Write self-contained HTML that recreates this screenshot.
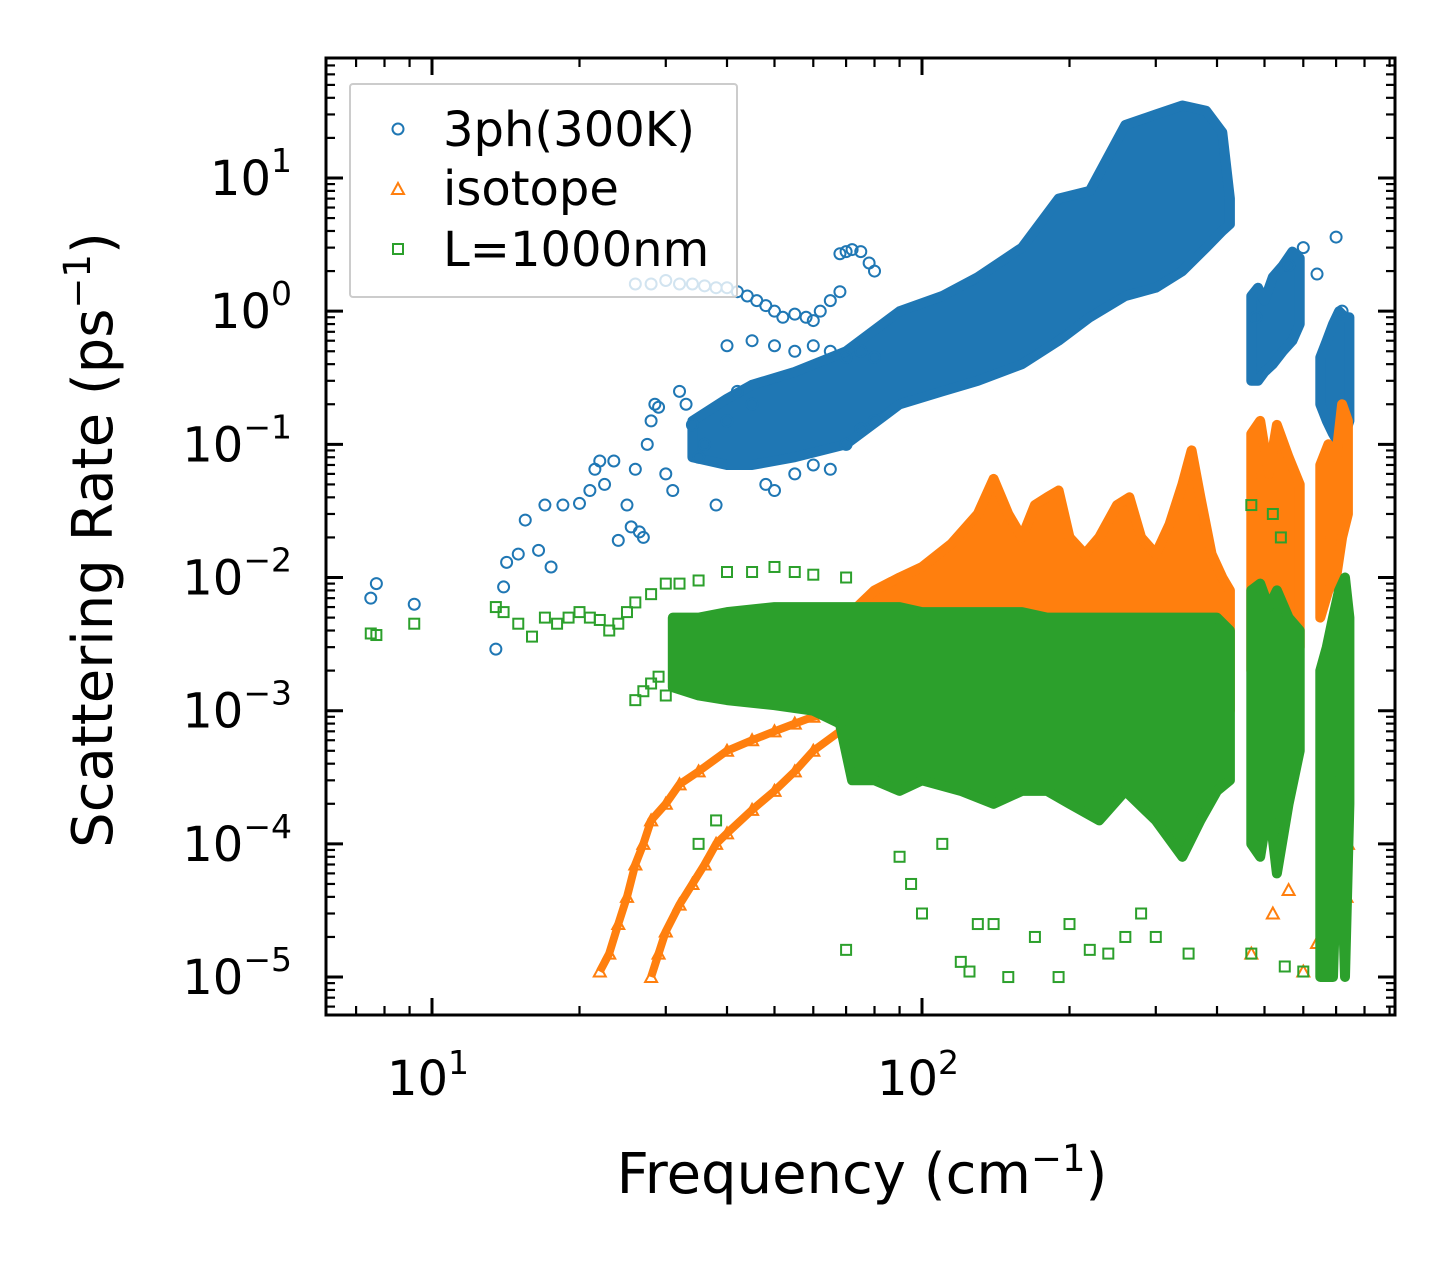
<!DOCTYPE html>
<html><head><meta charset="utf-8"><style>
html,body{margin:0;padding:0;background:#fff;}
svg{display:block;font-family:"DejaVu Sans","Liberation Sans",sans-serif;}
</style></head><body>
<svg id="chart" width="1455" height="1265" viewBox="0 0 1455 1265" xmlns="http://www.w3.org/2000/svg">
<rect x="0" y="0" width="1455" height="1265" fill="#fff"/>
<defs><clipPath id="plotclip"><rect x="326" y="58" width="1069" height="957"/></clipPath></defs>
<g id="plot" clip-path="url(#plotclip)"></g>
<g id="axes"></g>
<text x="862" y="1193" font-size="56" text-anchor="middle">Frequency (cm<tspan font-size="37" dy="-22">−1</tspan><tspan dy="22">)</tspan></text>
<text transform="translate(112,540) rotate(-90)" font-size="56" text-anchor="middle">Scattering Rate (ps<tspan font-size="37" dy="-22">−1</tspan><tspan dy="22">)</tspan></text>
<g>
<rect x="350" y="84" width="387" height="213" fill="#fff" fill-opacity="0.8" stroke="#ccc" stroke-width="2" rx="3"/>
<g><circle cx="398" cy="129" r="5.5" fill="none" stroke="#1f77b4" stroke-width="2"/><text x="443" y="146" font-size="48">3ph(300K)</text></g>
<g><polygon points="398,183 404,194 392,194" fill="none" stroke="#ff7f0e" stroke-width="2"/><text x="443" y="205" font-size="48">isotope</text></g>
<g><rect x="393" y="244" width="10" height="10" fill="none" stroke="#2ca02c" stroke-width="2"/><text x="443" y="266" font-size="48">L=1000nm</text></g>
</g>
</svg>
<script>
// ---- data ----
const blueF=[7.5,7.7,9.2,13.5,14,14.2,15,15.5,16.5,17,17.5,18.5,20,21,21.5,22,22.5,23.5,24,25,25.5,26,26.5,27,27.5,28,28.5,29,30,31,32,33,34,35,36,38,40,42,45,48,50,55,60,65,70,75,80,26,28,30,32,34,36,38,40,42,44,46,48,50,52,55,58,60,62,65,68,40,45,50,55,60,65,70,75,80,68,70,72,75,78,80,600,640,700,720,560,480];
const blueR=[0.007,0.009,0.0063,0.0029,0.0085,0.013,0.015,0.027,0.016,0.035,0.012,0.035,0.036,0.045,0.065,0.075,0.05,0.075,0.019,0.035,0.024,0.065,0.022,0.02,0.1,0.15,0.2,0.19,0.06,0.045,0.25,0.2,0.14,0.08,0.1,0.035,0.15,0.25,0.2,0.05,0.045,0.06,0.07,0.065,0.1,0.13,0.15,1.6,1.6,1.7,1.6,1.6,1.55,1.5,1.5,1.4,1.3,1.2,1.1,1.0,0.9,0.95,0.9,0.85,1.0,1.2,1.4,0.55,0.6,0.55,0.5,0.55,0.5,0.45,0.5,0.45,2.7,2.8,2.9,2.8,2.3,2.0,3.0,1.9,3.6,1.0,2.2,0.9];
const blueBandF=[34,40,45,55,70,90,110,130,160,190,220,260,300,340,380,410,425];
const blueBandLo=[0.08,0.07,0.07,0.08,0.1,0.2,0.25,0.3,0.4,0.6,0.9,1.3,1.5,2,3,4,4.5];
const blueBandHi=[0.15,0.22,0.28,0.35,0.5,1.0,1.3,1.8,3,7,8,25,30,35,32,22,7];
const blueClumpF=[[470,485,500,520,545,570,590],[650,670,690,710,730,745]];
const blueClumpLo=[[0.3,0.3,0.35,0.4,0.5,0.6,0.8],[0.2,0.15,0.12,0.1,0.12,0.15]];
const blueClumpHi=[[1.3,1.5,1.2,1.8,2.2,2.8,2.5],[0.45,0.6,0.8,1.0,0.9,0.9]];

const orgF=[22,23,24,25,26,27,28,30,32,35,40,45,50,55,60,68,28,29,30,32,34,36,38,40,45,50,55,60,68,470,520,560,600,640,700,735,740];
const orgR=[1.1e-5,1.5e-5,2.5e-5,4e-5,7e-5,1e-4,1.5e-4,2e-4,2.8e-4,3.5e-4,5e-4,6e-4,7e-4,8e-4,9e-4,1e-3,1e-5,1.5e-5,2.2e-5,3.5e-5,5e-5,7e-5,1e-4,1.2e-4,1.8e-4,2.5e-4,3.5e-4,5e-4,7e-4,1.5e-5,3e-5,4.5e-5,1.1e-5,1.8e-5,2e-4,4e-5,1e-4];
const orgBranchA=[0,16];
const orgBranchB=[16,29];
const orgBandF=[70,80,90,100,115,130,140,150,160,170,180,190,200,215,230,250,265,280,300,320,340,355,370,390,410,425];
const orgBandLo=[1e-3,1e-3,1e-3,1e-3,1e-3,1e-3,1e-3,1e-3,1e-3,1e-3,1e-3,1e-3,1e-3,1e-3,1e-3,1e-3,1e-3,1e-3,1e-3,1e-3,1e-3,1e-3,1e-3,1e-3,1e-3,1e-3];
const orgBandHi=[0.005,0.008,0.01,0.012,0.018,0.03,0.055,0.03,0.02,0.035,0.04,0.045,0.02,0.015,0.02,0.035,0.04,0.02,0.015,0.025,0.05,0.09,0.04,0.015,0.01,0.008];
const orgClumpF=[[470,490,510,530,560,590],[650,675,700,720,740]];
const orgClumpLo=[[2e-3,1.5e-3,1.5e-3,2e-3,2e-3,3e-3],[5e-3,8e-3,0.01,0.02,0.03]];
const orgClumpHi=[[0.12,0.15,0.06,0.14,0.08,0.05],[0.07,0.1,0.08,0.2,0.15]];

const grnF=[7.5,7.7,9.2,13.5,14,15,16,17,18,19,20,21,22,23,24,25,26,28,30,32,35,40,45,50,55,60,70,26,27,28,29,30,35,38,70,90,95,100,110,120,125,130,140,150,170,190,200,220,240,260,280,300,350,470,550,600,470,520,540];
const grnR=[0.0038,0.0037,0.0045,0.006,0.0055,0.0045,0.0036,0.005,0.0045,0.005,0.0055,0.005,0.0048,0.004,0.0045,0.0055,0.0065,0.0075,0.009,0.009,0.0095,0.011,0.011,0.012,0.011,0.0105,0.01,0.0012,0.0014,0.0016,0.0018,0.0013,1e-4,1.5e-4,1.6e-5,8e-5,5e-5,3e-5,1e-4,1.3e-5,1.1e-5,2.5e-5,2.5e-5,1e-5,2e-5,1e-5,2.5e-5,1.6e-5,1.5e-5,2e-5,3e-5,2e-5,1.5e-5,1.5e-5,1.2e-5,1.1e-5,0.035,0.03,0.02];
const grnBandF=[31,35,40,50,60,68,72,80,90,100,120,140,160,180,200,230,260,300,340,370,400,425];
const grnBandLo=[1.5e-3,1.3e-3,1.2e-3,1.1e-3,1e-3,8e-4,3e-4,3e-4,2.5e-4,3e-4,2.5e-4,2e-4,2.5e-4,2.5e-4,2e-4,1.5e-4,2.5e-4,1.5e-4,8e-5,1.5e-4,2.5e-4,3e-4];
const grnBandHi=[5e-3,5e-3,5.5e-3,6e-3,6e-3,6e-3,6e-3,6e-3,6e-3,5.5e-3,5.5e-3,5.5e-3,5.5e-3,5e-3,5e-3,5e-3,5e-3,5e-3,5e-3,5e-3,5e-3,4e-3];
const grnClumpF=[[470,490,510,530,560,590],[650,670,690,710,730,745]];
const grnClumpLo=[[1e-4,8e-5,2e-4,6e-5,2e-4,5e-4],[1e-5,1e-5,1e-5,3e-4,1e-5,2e-4]];
const grnClumpHi=[[8e-3,9e-3,6e-3,8e-3,5e-3,4e-3],[2e-3,3e-3,5e-3,8e-3,1e-2,5e-3]];

const xTickVals=[10,100];
const yTickExps=[1,0,-1,-2,-3,-4,-5];

// ---- axes ----
const X0=326,X1=1395,Y0=58,Y1=1015;
const xLogMin=0.7837,xLogMax=2.9653,yLogMin=-5.285,yLogMax=1.901;
function xs(f){return X0+(Math.log10(f)-xLogMin)/(xLogMax-xLogMin)*(X1-X0);}
function ys(r){return Y1-(Math.log10(r)-yLogMin)/(yLogMax-yLogMin)*(Y1-Y0);}
const NS="http://www.w3.org/2000/svg";
const plot=document.getElementById('plot'),axes=document.getElementById('axes');
function mk(tag,attrs,parent){const e=document.createElementNS(NS,tag);for(const k in attrs)e.setAttribute(k,attrs[k]);parent.appendChild(e);return e;}

function band(F,Lo,Hi,color,name){
  let pts=[];
  for(let i=0;i<F.length;i++)pts.push(xs(F[i]).toFixed(1)+','+ys(Hi[i]).toFixed(1));
  for(let i=F.length-1;i>=0;i--)pts.push(xs(F[i]).toFixed(1)+','+ys(Lo[i]).toFixed(1));
  const p=mk('polygon',{points:pts.join(' '),fill:color,stroke:color,'stroke-width':10,'stroke-linejoin':'round'},plot);
  
  
}
function marker(kind,f,r,color,name){
  const x=xs(f),y=ys(r);let e;
  if(kind==='c')e=mk('circle',{cx:x,cy:y,r:5.5,fill:'none',stroke:color,'stroke-width':2},plot);
  else if(kind==='t')e=mk('polygon',{points:`${x},${y-6} ${x+6},${y+5} ${x-6},${y+5}`,fill:'none',stroke:color,'stroke-width':2},plot);
  else e=mk('rect',{x:x-5,y:y-5,width:10,height:10,fill:'none',stroke:color,'stroke-width':2},plot);
  
  
}
const B='#1f77b4',O='#ff7f0e',G='#2ca02c';
band(blueBandF,blueBandLo,blueBandHi,B,'band-3ph');
blueClumpF.forEach((F,i)=>band(F,blueClumpLo[i],blueClumpHi[i],B,'clump-3ph'));
blueF.forEach((f,i)=>marker('c',f,blueR[i],B,'point-3ph'));
band(orgBandF,orgBandLo,orgBandHi,O,'band-isotope');
orgClumpF.forEach((F,i)=>band(F,orgClumpLo[i],orgClumpHi[i],O,'clump-isotope'));
[orgBranchA,orgBranchB].forEach(br=>{
  let pts=[];for(let i=br[0];i<br[1];i++)pts.push(xs(orgF[i]).toFixed(1)+','+ys(orgR[i]).toFixed(1));
  const l=mk('polyline',{points:pts.join(' '),fill:'none',stroke:O,'stroke-width':8,'stroke-linejoin':'round'},plot);
  
  
});
orgF.forEach((f,i)=>marker('t',f,orgR[i],O,'point-isotope'));
band(grnBandF,grnBandLo,grnBandHi,G,'band-boundary');
grnClumpF.forEach((F,i)=>band(F,grnClumpLo[i],grnClumpHi[i],G,'clump-boundary'));
grnF.forEach((f,i)=>marker('s',f,grnR[i],G,'point-boundary'));

const fr=mk('rect',{x:X0,y:Y0,width:X1-X0,height:Y1-Y0,fill:'none',stroke:'#000','stroke-width':3},axes);


for(let d=0;d<=3;d++){for(let m=1;m<10;m++){const f=m*Math.pow(10,d);const x=xs(f);if(x<X0||x>X1)continue;
  const L=m===1?17:9;
  mk('line',{x1:x,y1:Y1,x2:x,y2:Y1-L,stroke:'#000','stroke-width':m===1?3:2.2},axes);
  mk('line',{x1:x,y1:Y0,x2:x,y2:Y0+L,stroke:'#000','stroke-width':m===1?3:2.2},axes);}}
xTickVals.forEach(v=>{const t=mk('text',{x:xs(v)-4,y:1095,'font-size':48,'text-anchor':'middle'},axes);
  
  
  t.innerHTML='10<tspan font-size="33" dy="-21">'+Math.round(Math.log10(v))+'</tspan>';});
for(let d=-6;d<=2;d++){for(let m=1;m<10;m++){const r=m*Math.pow(10,d);const y=ys(r);if(y<Y0||y>Y1)continue;
  const L=m===1?17:9;
  mk('line',{x1:X0,y1:y,x2:X0+L,y2:y,stroke:'#000','stroke-width':m===1?3:2.2},axes);
  mk('line',{x1:X1,y1:y,x2:X1-L,y2:y,stroke:'#000','stroke-width':m===1?3:2.2},axes);}}
yTickExps.forEach(e=>{const t=mk('text',{x:292,y:ys(Math.pow(10,e))+17,'font-size':48,'text-anchor':'end'},axes);
  
  
  t.innerHTML='10<tspan font-size="33" dy="-23">'+(e<0?'−'+(-e):e)+'</tspan>';});
</script>
</body></html>
